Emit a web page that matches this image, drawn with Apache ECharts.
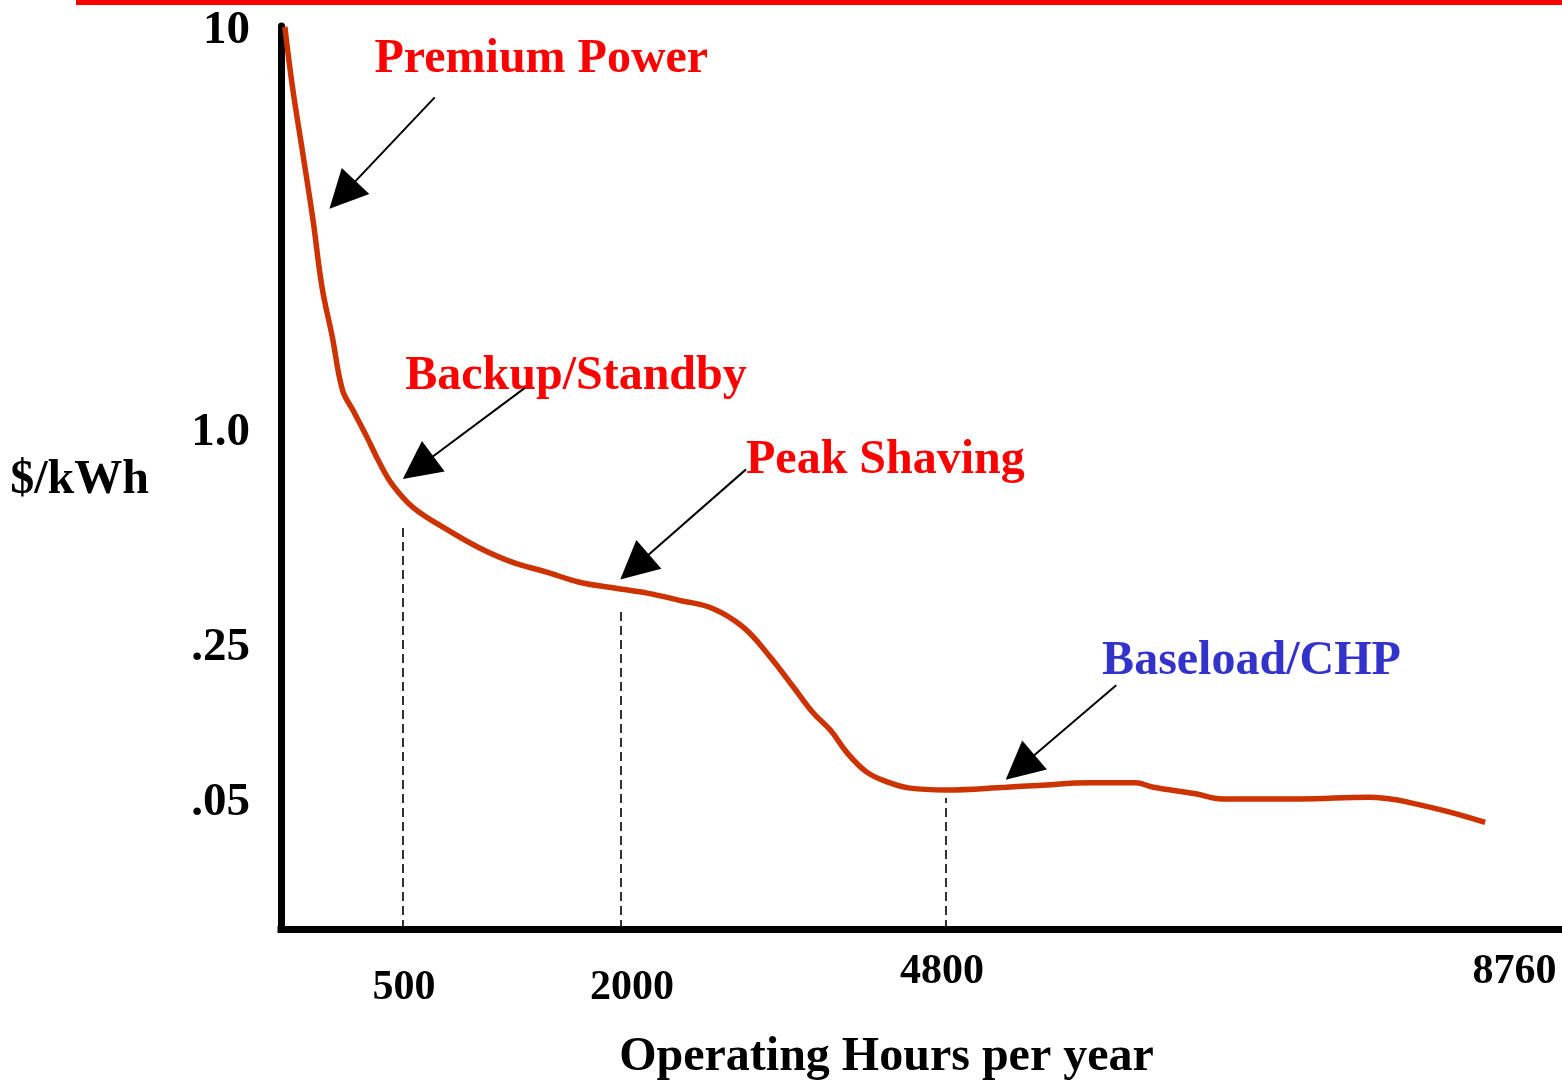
<!DOCTYPE html>
<html lang="en">
<head>
    <meta charset="UTF-8">
    <title>Operating Hours per year</title>
    <script src="https://cdn.jsdelivr.net/npm/echarts@6/dist/echarts.min.js"></script>
    <style>html,body{margin:0;padding:0;background:#fff;}</style>
</head>
<body>
    <div id="main" style="width:1562px;height:1080px;"></div>
    <script>
        // schematic chart: both axes are drawn in 0-100 "chart units",
        // tick labels sit at the positions they have in the original figure
        const curveX = [0.3, 0.9, 1.7, 2.5, 3.2, 4.0, 4.8, 5.6, 6.7, 7.7, 8.7, 10.3, 13.0, 15.5, 18.1, 20.8, 23.3, 25.9, 28.6, 31.1, 33.7, 36.1, 38.2, 40.0, 41.5, 42.9, 44.2, 45.7, 47.3, 49.1, 51.9, 56.6, 59.1, 63.2, 66.7, 68.1, 71.3, 73.5, 76.4, 79.5, 84.9, 86.6, 87.8, 91.1, 94.0]
        const curveY = [99.9, 93.2, 85.9, 78.5, 71.1, 65.6, 59.7, 57.5, 54.5, 51.6, 49.2, 46.7, 44.2, 42.2, 40.6, 39.5, 38.4, 37.8, 37.2, 36.4, 35.5, 33.4, 30.1, 26.8, 24.0, 22.0, 19.5, 17.4, 16.3, 15.6, 15.4, 15.7, 15.9, 16.2, 16.2, 15.7, 15.0, 14.4, 14.4, 14.4, 14.6, 14.4, 14.1, 13.0, 11.8]

        const xTickPos = [9.6, 27.4, 51.6, 96.3]
        const xTickLabels = ['500', '2000', '4800', '8760']
        const yTickPos = [99.8, 55.3, 31.5, 14.3]
        const yTickLabels = ['10', '1.0', '.25', '.05']

        // dashed guides from the x axis up to the curve
        const guideX = [9.5, 26.5, 51.9]
        const guideTop = [44.5, 35.1, 14.5]

        // call-outs
        const noteText = ['Premium Power', 'Backup/Standby', 'Peak Shaving', 'Baseload/CHP']
        const noteColor = ['#ff0000', '#ff0000', '#ff0000', '#3333cc']
        const notePos = [[7.3, 96.6], [9.7, 61.5], [36.3, 52.2], [64.1, 30.0]]
        const arrowFrom = [[12.0, 92.1], [19.3, 60.2], [36.3, 50.9], [65.2, 27.0]]
        const arrowTo = [[4.8, 81.3], [10.7, 51.1], [27.6, 40.1], [57.7, 17.9]]

        const serif = '"Liberation Serif", "Times New Roman", serif'

        const lineData = curveX.map((x, i) => [x, curveY[i]])

        const markLines = []
        guideX.forEach((x, i) => {
            markLines.push([
                { coord: [x, 0], symbol: 'none', lineStyle: { color: '#000', width: 1.6, type: [9, 5] } },
                { coord: [x, guideTop[i]], symbol: 'none' }
            ])
        })
        arrowFrom.forEach((p, i) => {
            markLines.push([
                { coord: p, symbol: 'none', lineStyle: { color: '#000', width: 2, type: 'solid' } },
                { coord: arrowTo[i], symbol: 'triangle', symbolSize: 38 }
            ])
        })

        const markPoints = noteText.map((t, i) => ({
            coord: notePos[i],
            value: t,
            label: { color: noteColor[i] }
        }))

        const mychart = echarts.init(document.getElementById('main'))
        const option = {
            animation: false,
            backgroundColor: '#fff',
            grid: { left: 281, right: 0, top: 26, bottom: 151, containLabel: false, outerBoundsMode: 'none' },
            graphic: [{
                type: 'rect',
                shape: { x: 76, y: 0, width: 1486, height: 5 },
                style: { fill: '#ff0000' }
            }],
            xAxis: {
                type: 'value',
                min: 0,
                max: 100,
                name: 'Operating Hours per year',
                nameLocation: 'middle',
                nameGap: 105,
                nameTextStyle: { fontFamily: serif, fontWeight: 'bold', fontSize: 48, color: '#000', padding: [0, 70, 0, 0] },
                axisLine: { lineStyle: { color: '#000', width: 7, cap: 'square' } },
                axisTick: { show: false },
                splitLine: { show: false },
                axisLabel: {
                    customValues: xTickPos,
                    margin: 22,
                    color: '#000',
                    formatter: (v) => {
                        const i = xTickPos.indexOf(v)
                        if (i < 0) return ''
                        return (i < 2 ? '{lo|' : '{hi|') + xTickLabels[i] + '}'
                    },
                    rich: {
                        lo: { fontFamily: serif, fontWeight: 'bold', fontSize: 42, color: '#000', padding: [16, 0, 0, 0] },
                        hi: { fontFamily: serif, fontWeight: 'bold', fontSize: 42, color: '#000' }
                    }
                }
            },
            yAxis: {
                type: 'value',
                min: 0,
                max: 100,
                name: '{n|$/kWh}',
                nameLocation: 'middle',
                nameRotate: 0,
                nameGap: 132,
                nameTextStyle: {
                    fontFamily: serif, fontWeight: 'bold', fontSize: 48, color: '#000',
                    rich: { n: { fontFamily: serif, fontWeight: 'bold', fontSize: 48, color: '#000', padding: [6, 0, 0, 0] } }
                },
                axisLine: { lineStyle: { color: '#000', width: 7 } },
                axisTick: { show: false },
                splitLine: { show: false },
                axisLabel: {
                    customValues: yTickPos,
                    margin: 31,
                    color: '#000',
                    formatter: (v) => {
                        const i = yTickPos.indexOf(v)
                        return i < 0 ? '' : '{t|' + yTickLabels[i] + '}'
                    },
                    rich: {
                        t: { fontFamily: serif, fontWeight: 'bold', fontSize: 47, color: '#000', padding: [6, 0, 0, 0] }
                    }
                }
            },
            series: [{
                type: 'line',
                data: lineData,
                smooth: 0.4,
                symbol: 'none',
                silent: true,
                z: 3,
                lineStyle: { color: '#cc3300', width: 5.5 },
                markLine: {
                    silent: true,
                    symbol: ['none', 'none'],
                    label: { show: false },
                    emphasis: { disabled: true },
                    data: markLines
                },
                markPoint: {
                    silent: true,
                    symbol: 'circle',
                    symbolSize: 0,
                    label: {
                        show: true,
                        position: 'inside',
                        align: 'left',
                        verticalAlign: 'middle',
                        offset: [0, 3],
                        fontFamily: serif,
                        fontWeight: 'bold',
                        fontSize: 48,
                        formatter: (p) => p.value
                    },
                    data: markPoints
                }
            }]
        }
        mychart.setOption(option)
    </script>
</body>
</html>
